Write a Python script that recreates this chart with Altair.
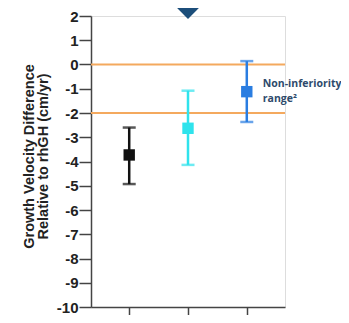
import altair as alt
import pandas as pd

groups = ["A", "B", "C"]
means = [-3.73, -2.63, -1.12]
lower = [-4.93, -4.14, -2.37]
upper = [-2.60, -1.08, 0.14]
colors = ["#111111", "#2fe3ec", "#2a7de1"]
ref_lines = [0, -2]
y_ticks = list(range(-10, 3))
note_text = ["Non-inferiority", "range²"]

df = pd.DataFrame({"g": groups, "m": means, "lo": lower, "hi": upper, "c": colors})
ref = pd.DataFrame({"v": ref_lines})
deco = pd.DataFrame({"g": ["B"], "v": [3.53]})
note = pd.DataFrame({"g": ["C"], "v": [-0.8], "t": [note_text]})

xaxis = alt.Axis(title=None, labels=False, ticks=True, tickSize=12,
                 tickColor="#444", tickWidth=1.5, domainColor="#444",
                 domainWidth=1.5, grid=False)
xscale = alt.Scale(type="point", padding=0.65, domain=groups)
yscale = alt.Scale(domain=[-10, 2], nice=False, zero=False, padding=0)
yaxis = alt.Axis(values=y_ticks, title=["Growth Velocity Difference", "Relative to rhGH (cm/yr)"],
                 titleFont="Liberation Sans", titleFontSize=14.5, titleFontWeight="bold",
                 titleColor="#222", titleAngle=-90, titleAlign="center", titleBaseline="top",
                 titleX=-69, titleY=140, titleLineHeight=14,
                 labelFont="Liberation Sans", labelFontSize=15, labelFontWeight="bold",
                 labelColor="#222", labelPadding=1, labelOverlap=False,
                 labelExpr="'' + datum.value",
                 tickSize=12, tickColor="#444",
                 tickWidth=1.5, domainColor="#444", domainWidth=1.5, grid=False)


def X(f):
    return alt.X(f, scale=xscale, axis=xaxis)


def Y(f):
    return alt.Y(f, scale=yscale, axis=yaxis)


base = alt.Chart(df)

rules_ref = alt.Chart(ref).mark_rule(color="#f4a95e", strokeWidth=2).encode(y=Y("v:Q"))

bars = base.mark_rule(strokeWidth=2.5).encode(
    x=X("g:N"), y=Y("lo:Q"), y2="hi:Q", color=alt.Color("c:N", scale=None))

cap_lo = base.mark_tick(size=13, thickness=2.5, orient="horizontal").encode(
    x=X("g:N"), y=Y("lo:Q"), color=alt.Color("c:N", scale=None))
cap_hi = base.mark_tick(size=13, thickness=2.5, orient="horizontal").encode(
    x=X("g:N"), y=Y("hi:Q"), color=alt.Color("c:N", scale=None))

pts = base.mark_square(size=130, opacity=1).encode(
    x=X("g:N"), y=Y("m:Q"), color=alt.Color("c:N", scale=None))

tri = alt.Chart(deco).mark_point(shape="diamond", size=6400, filled=True, opacity=1,
                                 color="#1c4e7a", clip=False).encode(
    x=X("g:N"), y=Y("v:Q"))

txt = alt.Chart(note).mark_text(align="left", baseline="middle", dx=16, font="Open Sans",
                                fontSize=10.5, fontWeight="bold", color="#2e4a6b",
                                lineHeight=15).encode(
    x=X("g:N"), y=Y("v:Q"), text="t")

chart = alt.layer(rules_ref, bars, cap_lo, cap_hi, pts, tri, txt).properties(
    width=194, height=291,
    autosize=alt.AutoSizeParams(type="none"),
    padding={"left": 83, "top": 8, "right": 56, "bottom": 8},
).configure_view(stroke=None).configure(background="white")

chart.save("out.html", embed_options={"renderer": "svg", "actions": False})
